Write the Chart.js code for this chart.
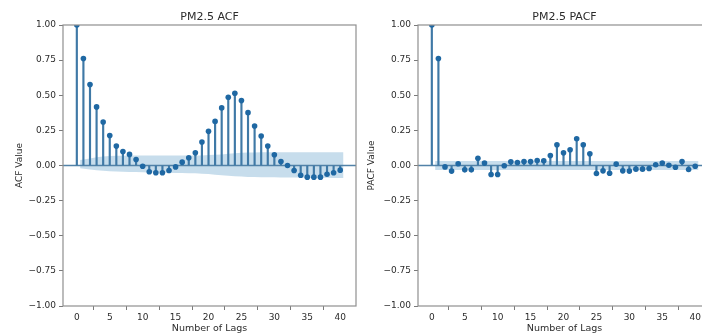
<!DOCTYPE html>
<html><head><meta charset="utf-8">
<script src="https://cdn.jsdelivr.net/npm/chart.js@4.4.0/dist/chart.umd.min.js"></script>
<style>
html,body{margin:0;padding:0;background:#fff;overflow:hidden;}
#wrap{position:relative;width:702px;height:334px;overflow:hidden;background:#fff;}
.panel{position:absolute;top:0;height:334px;width:360px;}
</style></head><body>
<div id="wrap">
<div class="panel" style="left:0"><canvas id="acf" width="360" height="334"></canvas></div>
<div class="panel" style="left:355px"><canvas id="pacf" width="360" height="334"></canvas></div>
</div>
<script>
const lags = [0,1,2,3,4,5,6,7,8,9,10,11,12,13,14,15,16,17,18,19,20,21,22,23,24,25,26,27,28,29,30,31,32,33,34,35,36,37,38,39,40];
const xTickValues = [0,5,10,15,20,25,30,35,40];
const yTickValues = [-1,-0.75,-0.5,-0.25,0,0.25,0.5,0.75,1];
const yTickLabels = ['\u22121.00','\u22120.75','\u22120.50','\u22120.25','0.00','0.25','0.50','0.75','1.00'];

const acfValues = [1.0,0.762,0.576,0.417,0.31,0.214,0.138,0.10,0.079,0.043,-0.005,
  -0.045,-0.052,-0.052,-0.036,-0.01,0.024,0.055,0.09,0.167,0.243,
  0.314,0.41,0.486,0.514,0.462,0.376,0.281,0.21,0.138,0.076,
  0.029,0.0,-0.036,-0.069,-0.083,-0.083,-0.083,-0.062,-0.052,-0.033];
const acfBandUpper = [0.040,0.050,0.058,0.064,0.067,0.069,0.070,0.071,0.071,0.071,
  0.071,0.071,0.071,0.071,0.071,0.071,0.071,0.071,0.072,0.074,
  0.076,0.079,0.083,0.087,0.090,0.092,0.093,0.094,0.094,0.094,
  0.094,0.094,0.094,0.094,0.094,0.094,0.094,0.094,0.094,0.094];
const acfBandLower = [-0.020,-0.028,-0.034,-0.038,-0.041,-0.043,-0.045,-0.046,-0.047,-0.048,
  -0.049,-0.050,-0.051,-0.052,-0.053,-0.054,-0.055,-0.056,-0.058,-0.061,
  -0.065,-0.069,-0.073,-0.076,-0.079,-0.081,-0.082,-0.083,-0.084,-0.084,
  -0.085,-0.085,-0.086,-0.086,-0.087,-0.087,-0.088,-0.088,-0.089,-0.089];

const pacfValues = [1.0,0.762,-0.01,-0.04,0.012,-0.031,-0.031,0.052,0.017,-0.064,-0.064,
  -0.002,0.026,0.021,0.029,0.029,0.036,0.033,0.071,0.148,0.09,
  0.112,0.19,0.148,0.083,-0.057,-0.038,-0.055,0.01,-0.038,-0.04,
  -0.026,-0.026,-0.021,0.005,0.017,0.002,-0.012,0.029,-0.029,-0.005];
const pacfBandUpper = [0.032,0.032,0.032,0.032,0.032,0.032,0.032,0.032,0.032,0.032,
  0.032,0.032,0.032,0.032,0.032,0.032,0.032,0.032,0.032,0.032,
  0.032,0.032,0.032,0.032,0.032,0.032,0.032,0.032,0.032,0.032,
  0.032,0.032,0.032,0.032,0.032,0.032,0.032,0.032,0.032,0.032];
const pacfBandLower = [-0.032,-0.032,-0.032,-0.032,-0.032,-0.032,-0.032,-0.032,-0.032,-0.032,
  -0.032,-0.032,-0.032,-0.032,-0.032,-0.032,-0.032,-0.032,-0.032,-0.032,
  -0.032,-0.032,-0.032,-0.032,-0.032,-0.032,-0.032,-0.032,-0.032,-0.032,
  -0.032,-0.032,-0.032,-0.032,-0.032,-0.032,-0.032,-0.032,-0.032,-0.032];

const FONT = '"DejaVu Sans", "Liberation Sans", sans-serif';
const X_MIN = -2.1, X_MAX = 42.4;
const textColor = '#2b2b2b';
const tickColor = '#7a7a7a';
const spineColor = '#8f8f8f';
const stemColor = '#3f79a6';
const markerColor = '#1f68a3';
const zeroColor = '#5282a8';
const bandColor = 'rgba(31,119,180,0.25)';

// band x positions: first lag shifted left by 0.5, last lag shifted right by 0.5
const bandLags = lags.slice(1).map((v, i, a) => i === 0 ? v - 0.5 : (i === a.length - 1 ? v + 0.5 : v));

const panelPlugin = {
  id: 'panelDeco',
  afterDraw(chart, args, opts) {
    const {ctx, chartArea: a} = chart;
    ctx.save();
    ctx.strokeStyle = spineColor;
    ctx.lineWidth = 1.2;
    ctx.strokeRect(a.left, a.top, a.right - a.left, a.bottom - a.top);
    ctx.fillStyle = textColor;
    ctx.font = '11px ' + FONT;
    ctx.textAlign = 'center';
    ctx.textBaseline = 'middle';
    ctx.fillText(opts.text, (a.left + a.right) / 2, 17);
    ctx.restore();
  }
};

function makeChart(id, title, yLabel, values, upper, lower, yTitlePad) {
  new Chart(document.getElementById(id), {
    type: 'line',
    data: {
      datasets: [
        {type: 'line', data: bandLags.map((x, i) => ({x, y: upper[i]})), borderWidth: 0, pointRadius: 0, fill: false, order: 5},
        {type: 'line', data: bandLags.map((x, i) => ({x, y: lower[i]})), borderWidth: 0, pointRadius: 0, fill: '-1', backgroundColor: bandColor, order: 4},
        {type: 'line', data: [{x: X_MIN, y: 0}, {x: X_MAX, y: 0}], borderColor: zeroColor, borderWidth: 1.3, pointRadius: 0, fill: false, order: 3},
        {type: 'bar', data: lags.map((x, i) => ({x, y: values[i]})), backgroundColor: stemColor, barThickness: 1.5, order: 2},
        {type: 'line', data: lags.map((x, i) => ({x, y: values[i]})), showLine: false, pointRadius: 2.8, pointBackgroundColor: markerColor, pointBorderWidth: 0, order: 1}
      ]
    },
    options: {
      responsive: false,
      animation: false,
      events: [],
      devicePixelRatio: 1,
      layout: {padding: {left: 0, right: 2, top: 25, bottom: 0}},
      plugins: {legend: {display: false}, tooltip: {enabled: false}, panelDeco: {text: title}},
      scales: {
        x: {
          type: 'linear', min: X_MIN, max: X_MAX, offset: false,
          afterBuildTicks: s => { s.ticks = xTickValues.map(v => ({value: v})); },
          afterFit: s => { s.height = 28; },
          ticks: {autoSkip: false, maxRotation: 0, padding: 2, color: textColor, font: {family: FONT, size: 9}, callback: v => String(v)},
          grid: {display: true, drawOnChartArea: false, drawTicks: true, tickLength: 4, color: tickColor},
          border: {display: false},
          title: {display: true, text: 'Number of Lags', color: textColor, font: {family: FONT, size: 9.5}, padding: {top: 0, bottom: 0}}
        },
        y: {
          type: 'linear', min: -1, max: 1,
          afterBuildTicks: s => { s.ticks = yTickValues.map(v => ({value: v})); },
          afterFit: s => { s.width = 63; },
          ticks: {autoSkip: false, padding: 3, color: textColor, font: {family: FONT, size: 9}, callback: (v, i) => yTickLabels[i]},
          grid: {display: true, drawOnChartArea: false, drawTicks: true, tickLength: 4, color: tickColor},
          border: {display: false},
          title: {display: true, text: yLabel, color: textColor, font: {family: FONT, size: 9}, padding: {top: yTitlePad, bottom: 0}}
        }
      }
    },
    plugins: [panelPlugin]
  });
}

makeChart('acf', 'PM2.5 ACF', 'ACF Value', acfValues, acfBandUpper, acfBandLower, 14.5);
makeChart('pacf', 'PM2.5 PACF', 'PACF Value', pacfValues, pacfBandUpper, pacfBandLower, 11.3);
</script>
</body></html>
